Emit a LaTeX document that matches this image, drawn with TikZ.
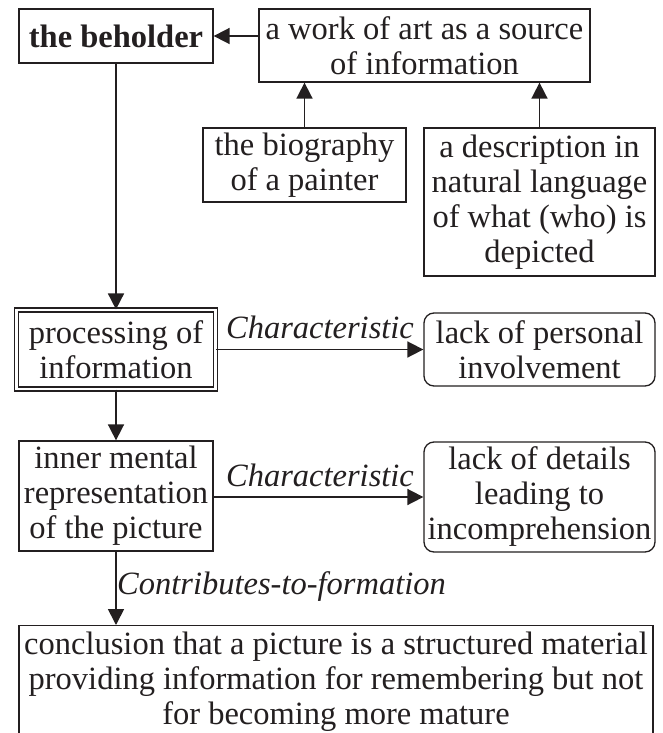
\documentclass[tikz,border=0pt]{standalone}
\usepackage{fontspec}
\setmainfont{Liberation Serif}
\usetikzlibrary{arrows.meta}
\definecolor{ink}{RGB}{35,31,32}
\tikzset{
  every node/.style={font=\fontsize{32.5}{35}\selectfont, text=ink},
  box/.style={draw=ink, line width=1.3pt, inner sep=0pt, align=center},
  rbox/.style={box, rounded corners=10pt},
  dbox/.style={box, line width=1.2pt, double=white, double distance=2.8pt},
  arr/.style={draw=ink, line width=1.7pt, -{Triangle[length=16pt,width=16pt]}},
  lbl/.style={inner sep=0pt, font=\fontsize{32.5}{35}\selectfont\itshape}
}
\begin{document}
\begin{tikzpicture}[x=1pt,y=-1pt]
\clip (0,0) rectangle (663,733);
\fill[white] (0,0) rectangle (663,733);
\node[box, minimum width=194pt, minimum height=54pt, font=\fontsize{32.5}{35}\selectfont\bfseries] (beh) at (116,36) {the beholder};
\node[box, minimum width=331pt, minimum height=73pt] (work) at (424.5,45.5) {a work of art as a source\\of information};
\node[box, minimum width=203pt, minimum height=74pt] (bio) at (304.5,165) {the biography\\of a painter};
\node[box, minimum width=231pt, minimum height=148pt] (desc) at (539.5,202) {a description in\\natural language\\of what (who) is\\depicted};
\node[dbox, minimum width=199pt, minimum height=79pt] (proc) at (116,349.5) {processing of\\information};
\node[rbox, minimum width=231pt, minimum height=73pt] (lpi) at (539.5,349.5) {lack of personal\\involvement};
\node[box, minimum width=194pt, minimum height=110pt] (inner) at (116,496) {inner mental\\representation\\of the picture};
\node[rbox, minimum width=231pt, minimum height=110pt] (lod) at (539.5,497) {lack of details\\leading to\\incomprehension};
\node[box, minimum width=634pt, minimum height=150pt, anchor=north] (concl) at (336,625) {};
\node[inner sep=0pt, align=center, anchor=north] (concltxt) at (336,632) {conclusion that a picture is a structured material\\providing information for remembering but not\\for becoming more mature};
\node[lbl] (c1) at (320,327) {Characteristic};
\node[lbl] (c2) at (320,475) {Characteristic};
\node[lbl, anchor=west] (c3) at (117,587) {Contributes-to-formation};
\draw[arr] (work.west |- beh.east) -- (beh.east);
\draw[arr] (bio.north) -- (bio.north |- work.south);
\draw[arr] (desc.north) -- (desc.north |- work.south);
\draw[arr] (beh.south) -- (proc.north);
\draw[arr] (proc.east) -- (proc.east -| lpi.west);
\draw[arr] (proc.south) -- (inner.north);
\draw[arr] (inner.east |- lod.west) -- (lod.west);
\draw[arr] (inner.south) -- (inner.south |- concl.north);
\end{tikzpicture}
\end{document}
